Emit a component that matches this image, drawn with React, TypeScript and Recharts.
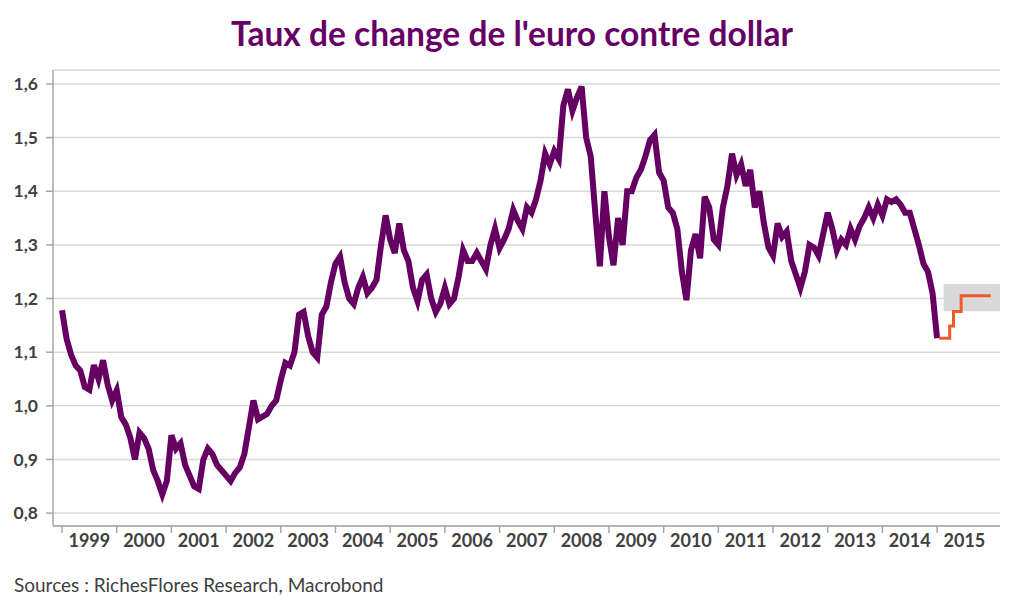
import React from 'react';
import { LineChart, Line, XAxis, YAxis, CartesianGrid, ReferenceArea } from 'recharts';

// EUR/USD, monthly readings from Jan 1999 to Jan 2015
const startYear = 1999;
const eurUsd = [
  // 1999
  1.178, 1.125, 1.095, 1.075, 1.066, 1.035, 1.03, 1.076, 1.05, 1.085, 1.04, 1.01,
  // 2000
  1.029, 0.979, 0.965, 0.94, 0.9, 0.95, 0.94, 0.92, 0.88, 0.86, 0.835, 0.86,
  // 2001
  0.945, 0.92, 0.93, 0.89, 0.87, 0.85, 0.845, 0.9, 0.92, 0.91, 0.89, 0.88,
  // 2002
  0.87, 0.86, 0.875, 0.885, 0.91, 0.96, 1.01, 0.975, 0.98, 0.985, 1.0, 1.01,
  // 2003
  1.048, 1.08, 1.075, 1.1, 1.17, 1.175, 1.13, 1.1, 1.09, 1.17, 1.185, 1.23,
  // 2004
  1.265, 1.278, 1.23, 1.2, 1.19, 1.22, 1.24, 1.21, 1.22, 1.235, 1.3, 1.355,
  // 2005
  1.31, 1.285, 1.34, 1.29, 1.27, 1.22, 1.195, 1.235, 1.245, 1.2, 1.175, 1.19,
  // 2006
  1.22, 1.19, 1.2, 1.24, 1.29, 1.27, 1.27, 1.285, 1.27, 1.255, 1.3, 1.33,
  // 2007
  1.294, 1.31, 1.33, 1.365, 1.345, 1.33, 1.37, 1.36, 1.385, 1.42, 1.47, 1.45,
  // 2008
  1.475, 1.46, 1.56, 1.59, 1.55, 1.575, 1.595, 1.5, 1.465, 1.36, 1.26, 1.4,
  // 2009
  1.315, 1.262, 1.35, 1.3, 1.4, 1.4, 1.425, 1.44, 1.465, 1.495, 1.505, 1.435,
  // 2010
  1.42, 1.37, 1.36, 1.33, 1.25, 1.197, 1.29, 1.32, 1.275, 1.39, 1.37, 1.31,
  // 2011
  1.3, 1.37, 1.41, 1.47, 1.43, 1.45, 1.41, 1.44, 1.37, 1.4, 1.34, 1.295,
  // 2012
  1.28, 1.34, 1.315, 1.325, 1.27, 1.245, 1.22, 1.25, 1.3, 1.295, 1.28, 1.32,
  // 2013
  1.36, 1.33, 1.29, 1.31, 1.3, 1.33, 1.31, 1.335, 1.35, 1.37, 1.35, 1.375,
  // 2014
  1.355, 1.385, 1.38, 1.385, 1.375, 1.36, 1.36, 1.33, 1.3, 1.265, 1.25, 1.21,
  // Jan 2015
  1.126,
];

// forecast path (orange steps)
const forecastDates = [2015.04, 2015.23, 2015.3, 2015.44, 2015.98];
const forecastValues = [1.126, 1.149, 1.176, 1.205, 1.205];

// grey target band
const bandStart = 2015.12;
const bandEnd = 2016.15;
const bandLow = 1.1765;
const bandHigh = 1.227;

const years = [1999, 2000, 2001, 2002, 2003, 2004, 2005, 2006, 2007, 2008, 2009, 2010, 2011, 2012, 2013, 2014, 2015];
const yTicks = [0.8, 0.9, 1.0, 1.1, 1.2, 1.3, 1.4, 1.5, 1.6];

const historyData = eurUsd.map((v, i) => ({ t: startYear + i / 12, v }));
const forecastData = forecastDates.map((t, i) => ({ t, v: forecastValues[i] }));

const FONT = 'Lato, "Open Sans", sans-serif';
const PURPLE = '#650062';
const AXIS = '#a6a6a6';
const TEXT = '#404040';

const YearTick = (props: any) => {
  const { x, y, payload } = props;
  return (
    <text x={x + 27.3} y={y + 12} textAnchor="middle" fontFamily={FONT} fontWeight={700} fontSize={18} fill={TEXT}>
      {payload.value}
    </text>
  );
};

export default function App() {
  return (
    <div style={{ position: 'absolute', left: 0, top: 0, width: 1024, height: 614, background: '#fff', fontFamily: FONT }}>
      <div
        style={{
          position: 'absolute',
          top: 13,
          left: 0,
          width: 1024,
          textAlign: 'center',
          fontSize: 33.5,
          fontWeight: 700,
          color: '#660066',
        }}
      >
        Taux de change de l'euro contre dollar
      </div>
      <LineChart width={1024} height={614} data={historyData} margin={{ top: 70, right: 24, bottom: 48, left: 0 }}>
        <CartesianGrid vertical={false} stroke="#d9d9d9" strokeWidth={1.5} />
        <XAxis
          dataKey="t"
          type="number"
          domain={[1998.835, 2016.15]}
          ticks={years}
          interval={0}
          allowDataOverflow
          height={40}
          stroke={AXIS}
          strokeWidth={1.5}
          tickSize={7}
          tickLine={{ stroke: AXIS }}
          tick={<YearTick />}
        />
        <YAxis
          type="number"
          domain={[0.776, 1.626]}
          ticks={yTicks}
          interval={0}
          allowDataOverflow
          width={53}
          stroke={AXIS}
          strokeWidth={1.5}
          tickSize={7}
          tickMargin={8}
          tickFormatter={(v: number) => v.toFixed(1).replace('.', ',')}
          tick={{ fontFamily: FONT, fontWeight: 700, fontSize: 17.5, fill: TEXT }}
        />
        <ReferenceArea x1={bandStart} x2={bandEnd} y1={bandLow} y2={bandHigh} fill="#d9d9d9" fillOpacity={1} stroke="none" />
        <Line
          type="linear"
          dataKey="v"
          stroke={PURPLE}
          strokeWidth={6}
          dot={false}
          isAnimationActive={false}
        />
        <Line
          data={forecastData}
          type="stepAfter"
          dataKey="v"
          stroke="#f05a28"
          strokeWidth={3}
          dot={false}
          isAnimationActive={false}
        />
      </LineChart>
      <div style={{ position: 'absolute', left: 14, top: 573, fontSize: 19, color: TEXT }}>
        Sources : RichesFlores Research, Macrobond
      </div>
    </div>
  );
}
